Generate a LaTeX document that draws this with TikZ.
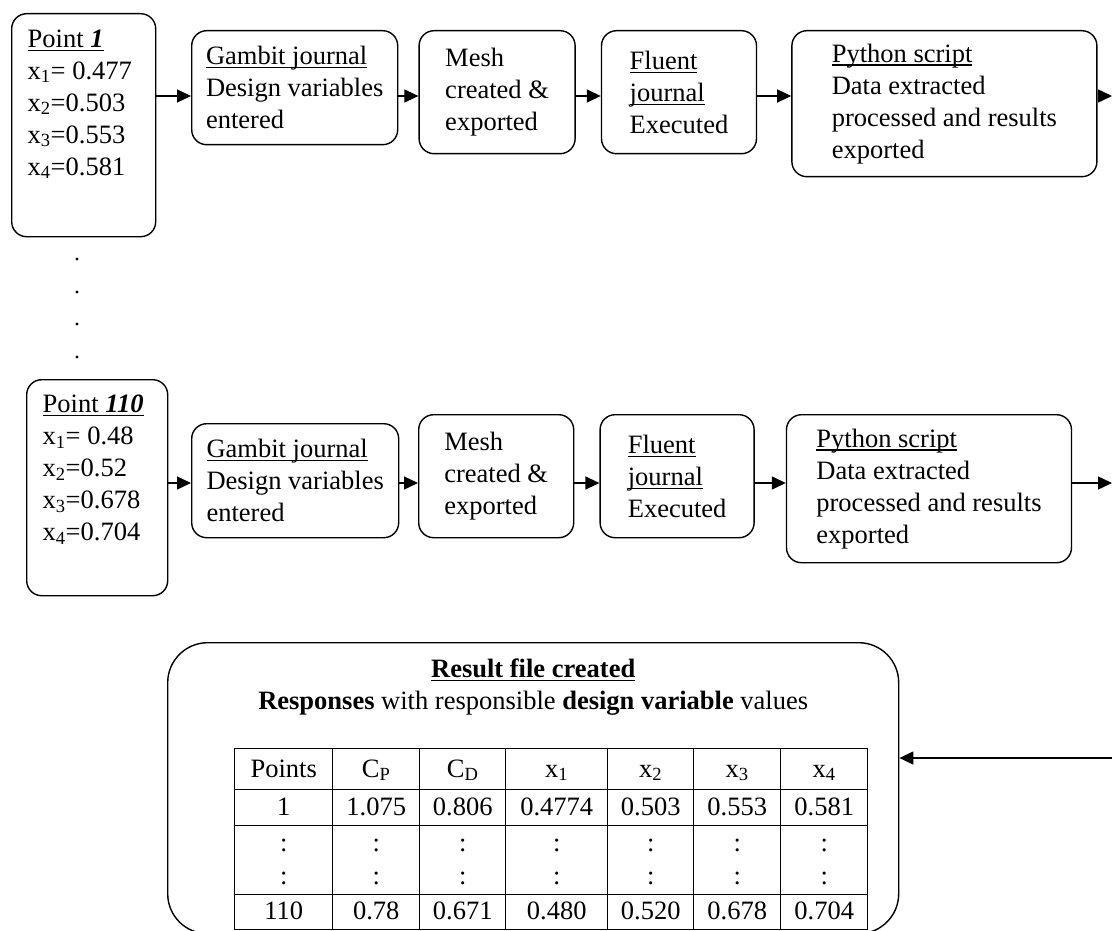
\documentclass[tikz,border=0pt]{standalone}
\usepackage{fontspec}
\setmainfont{Liberation Serif}
\usepackage{array}
\usetikzlibrary{arrows.meta,positioning}

\newcolumntype{C}[1]{>{\centering\arraybackslash}p{#1}}
\newcommand{\undl}[1]{\leavevmode\setbox0\hbox{#1}\rlap{\rule[-3.5pt]{\wd0}{1.1pt}}\box0}

\begin{document}
\begin{tikzpicture}[x=1pt, y=-1pt,
    font=\fontsize{26.5}{32}\selectfont,
    stage/.style={draw, line width=1.4pt, rounded corners=15pt, align=left, anchor=north west},
    pointbox/.style={draw, line width=1.4pt, rounded corners=15pt, anchor=north west, inner xsep=16pt, inner ysep=15pt},
    arrow/.style={-{Triangle[length=14pt, width=13pt]}, line width=1.4pt}
]
\useasboundingbox (0,0) rectangle (1112,931);

% first design point
\node[pointbox] (pt1) at (11,13) {\parbox[c][193pt][t]{112pt}{\vspace*{1pt}\undl{Point \textbf{\textit{1}}}\\x\textsubscript{1}= 0.477\\x\textsubscript{2}=0.503\\x\textsubscript{3}=0.553\\x\textsubscript{4}=0.581}};
\node[stage, minimum width=206pt, minimum height=114pt] (gam1) at (191,30) {\undl{Gambit journal}\\Design variables\\entered};
\node[stage, minimum width=156pt, minimum height=123pt, right=20pt of gam1.north east, anchor=north west] (mesh1) {Mesh\\created \&\\exported};
\node[stage, minimum width=155pt, minimum height=123pt, right=25pt of mesh1.north east, anchor=north west] (flu1) {\undl{Fluent}\\\undl{journal}\\Executed};
\node[stage, minimum width=305pt, minimum height=146pt, right=34pt of flu1.north east, anchor=north west] (py1) {\undl{Python script}\\Data extracted\\processed and results\\exported};

\foreach \y in {259,292,324,357} \fill (77,\y) circle (1.6pt);

% last design point
\node[pointbox] (pt2) at (26,379) {\parbox[c][186pt][t]{109pt}{\undl{Point \textbf{\textit{110}}}\\x\textsubscript{1}= 0.48\\x\textsubscript{2}=0.52\\x\textsubscript{3}=0.678\\x\textsubscript{4}=0.704}};
\node[stage, minimum width=207pt, minimum height=114pt] (gam2) at (191,423) {\undl{Gambit journal}\\Design variables\\entered};
\node[stage, minimum width=155pt, minimum height=123pt] (mesh2) at (418,414) {Mesh\\created \&\\exported};
\node[stage, minimum width=154pt, minimum height=123pt, right=25pt of mesh2.north east, anchor=north west] (flu2) {\undl{Fluent}\\\undl{journal}\\Executed};
\node[stage, minimum width=285pt, minimum height=148pt, right=31pt of flu2.north east, anchor=north west] (py2) {\undl{Python script}\\Data extracted\\processed and results\\exported};

% results
\node[draw, line width=1.4pt, rounded corners=40pt, anchor=north west, minimum width=731pt, minimum height=291pt] (res) at (167,642) {};
\node[align=center, below=13pt of res.north] (restitle) {\textbf{\undl{Result file created}}\\\textbf{Responses} with responsible \textbf{design variable} values};
\node[anchor=north west, inner sep=0pt] (tab) at (234,748) {%
\setlength\tabcolsep{0pt}\setlength\arrayrulewidth{1pt}%
\begin{tabular}{|C{97pt}|C{86pt}|C{85pt}|C{101pt}|C{85pt}|C{86pt}|C{86pt}|}
\hline
\rule[-12pt]{0pt}{40pt}Points & C\textsubscript{P} & C\textsubscript{D} & x\textsubscript{1} & x\textsubscript{2} & x\textsubscript{3} & x\textsubscript{4}\\ \hline
\rule[-10pt]{0pt}{35pt}1 & 1.075 & 0.806 & 0.4774 & 0.503 & 0.553 & 0.581\\ \hline
\rule[-8pt]{0pt}{33pt}: & : & : & : & : & : & :\\
\rule[-9pt]{0pt}{33pt}: & : & : & : & : & : & :\\ \hline
\rule[-10pt]{0pt}{34pt}110 & 0.78 & 0.671 & 0.480 & 0.520 & 0.678 & 0.704\\ \hline
\end{tabular}};

\coordinate (out1) at (1112,96);
\coordinate (out2) at (1112,483);
\coordinate (back) at (1112,758);

\draw[arrow] (pt1.east |- out1) -- (gam1.west |- out1);
\draw[arrow] (gam1.east |- out1) -- (mesh1.west |- out1);
\draw[arrow] (mesh1.east |- out1) -- (flu1.west |- out1);
\draw[arrow] (flu1.east |- out1) -- (py1.west |- out1);
\draw[arrow] (py1.east |- out1) -- (out1);

\draw[arrow] (pt2.east |- out2) -- (gam2.west |- out2);
\draw[arrow] (gam2.east |- out2) -- (mesh2.west |- out2);
\draw[arrow] (mesh2.east |- out2) -- (flu2.west |- out2);
\draw[arrow] (flu2.east |- out2) -- (py2.west |- out2);
\draw[arrow] (py2.east |- out2) -- (out2);

\draw[arrow] (back) -- (res.east |- back);
\end{tikzpicture}
\end{document}
